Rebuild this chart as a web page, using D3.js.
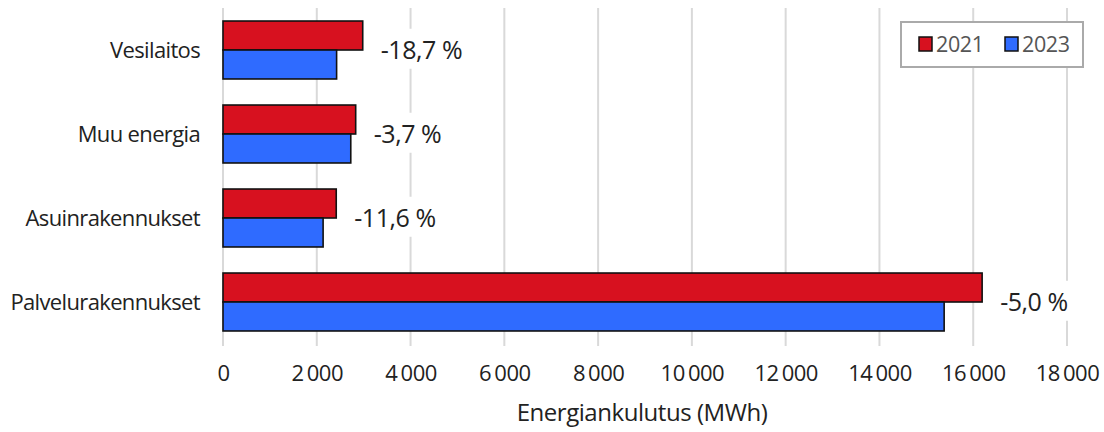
<!DOCTYPE html>
<html><head><meta charset="utf-8">
<script src="https://cdn.jsdelivr.net/npm/d3@7"></script>
<style>body{margin:0;background:#fff}svg{display:block}text{font-family:"Open Sans","Noto Sans",sans-serif;fill:#222}</style>
</head><body><svg id="c" width="1104" height="432"></svg>
<script>
const categories = ["Vesilaitos","Muu energia","Asuinrakennukset","Palvelurakennukset"];
const series = ["2021","2023"];
const values2021 = [2980, 2830, 2415, 16190];
const values2023 = [2423, 2725, 2135, 15380];
const changeLabels = ["-18,7 %","-3,7 %","-11,6 %","-5,0 %"];
const tickValues = [0,2000,4000,6000,8000,10000,12000,14000,16000,18000];
const axisTitle = "Energiankulutus (MWh)";
const colors = {"2021":"#d7111f","2023":"#2f6bff"};

const svg = d3.select("#c");
const x = d3.scaleLinear().domain([0,18000]).range([223,1067]);
const y = d3.scaleBand().domain(categories).range([8,344]).paddingInner(0.31).paddingOuter(0.155);
const y2 = d3.scaleBand().domain(series).range([0,y.bandwidth()]);
const fmt = v => d3.format(",")(v).replace(/,/g,"\u2009");

// gridlines
svg.append("g").selectAll("line").data(tickValues).join("line")
  .attr("x1",d=>x(d)).attr("x2",d=>x(d)).attr("y1",8).attr("y2",346)
  .attr("stroke","#d9d9d9").attr("stroke-width",2);

// x axis labels
const xa = svg.append("g").attr("transform","translate(0,346)")
  .call(d3.axisBottom(x).tickValues(tickValues).tickFormat(fmt).tickSize(0).tickPadding(19));
xa.select(".domain").remove();
xa.selectAll("text").attr("font-size",22).attr("fill","#222").attr("font-family","Open Sans").attr("letter-spacing","-0.5");

// y axis labels
svg.append("g").selectAll("text").data(categories).join("text")
  .attr("x",200).attr("y",d=>y(d)+y.bandwidth()/2).attr("dy","0.35em")
  .attr("text-anchor","end").attr("font-size",22).attr("letter-spacing","-0.65").text(d=>d);

// bars
const rows = categories.map((c,i)=>({c, v:{"2021":values2021[i],"2023":values2023[i]}}));
const g = svg.append("g").selectAll("g").data(rows).join("g")
  .attr("transform",d=>`translate(0,${y(d.c)})`);
g.selectAll("rect").data(d=>series.map(s=>({s,v:d.v[s]}))).join("rect")
  .attr("x",x(0)).attr("y",d=>y2(d.s)).attr("width",d=>x(d.v)-x(0)).attr("height",y2.bandwidth())
  .attr("fill",d=>colors[d.s]).attr("stroke","#111").attr("stroke-width",1.6);

// change labels
const lab = svg.append("g");
categories.forEach((c,i)=>{
  const lx = x(values2021[i]) + 18, ly = y(c)+y.bandwidth()/2;
  const bg = lab.append("rect").attr("fill","#fff");
  const t = lab.append("text").attr("x",lx).attr("y",ly).attr("dy","0.35em")
    .attr("font-size",25).attr("letter-spacing","-0.45").text(changeLabels[i]);
  const bb = t.node().getBBox();
  bg.attr("x",bb.x-4).attr("y",bb.y-3).attr("width",bb.width+8).attr("height",bb.height+6);
});

// legend
const lg = svg.append("g");
lg.append("rect").attr("x",901).attr("y",22).attr("width",182).attr("height",45)
  .attr("fill","#fff").attr("stroke","#aaa").attr("stroke-width",2);
const lx = d3.scalePoint().domain(series).range([919,1005]);
series.forEach(s=>{
  lg.append("rect").attr("x",lx(s)).attr("y",37).attr("width",13).attr("height",14)
    .attr("fill",colors[s]).attr("stroke","#111").attr("stroke-width",1.5);
  lg.append("text").attr("x",lx(s)+17).attr("y",44).attr("dy","0.35em").attr("font-size",21.5).attr("letter-spacing","-0.4").style("fill","#555").text(s);
});

// axis title
svg.append("text").attr("x",642).attr("y",413).attr("dy","0.35em").attr("text-anchor","middle")
  .attr("font-size",24).attr("letter-spacing","-0.45").text(axisTitle);
</script></body></html>
